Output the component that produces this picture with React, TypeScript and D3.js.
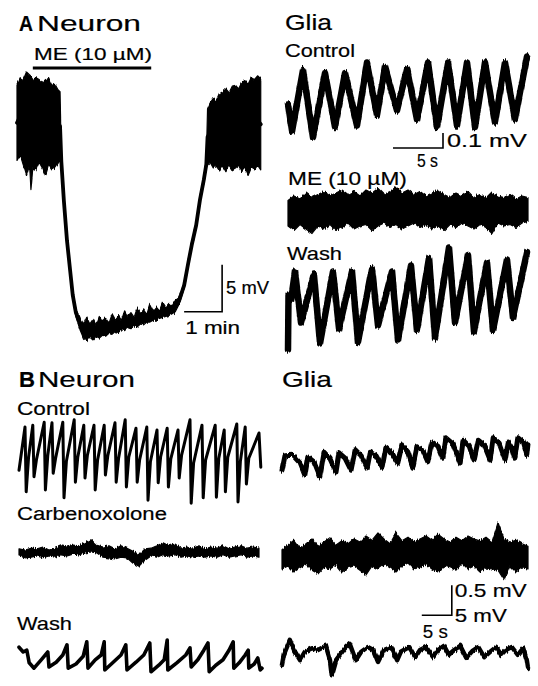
import React, { useLayoutEffect, useRef, useState } from 'react';
import * as d3 from 'd3';

// ---------- Panel A, neuron: slow record, [t (s), upper (mV), lower (mV)] of the trace band
const aNeuronTrace: [number, number, number][] = [
  [0, 3.7, -4.3], [5, 4.5, -3.7], [10, 4.3, -4.8], [15, 5.1, -5.9], [20, 4.8, -4.8],
  [22, 4.6, -7.4], [25, 4.3, -5.1], [30, 4.5, -5.3], [35, 4.3, -4.5], [40, 4.0, -5.1],
  [45, 4.3, -5.9], [50, 4.4, -4.8], [55, 3.7, -5.3], [60, 3.8, -5.1], [65, 3.2, -4.6],
  [68, 3.0, -4.3],
  // fall during ME
  [70, -4.0, -4.8], [74, -8.3, -8.8], [79, -12.6, -13.1], [84, -15.8, -16.3],
  [88, -18.3, -18.9], [93, -20.1, -20.9], [100, -21.2, -22.4],
  // hyperpolarised plateau
  [105, -21.8, -23.2], [110, -21.0, -23.5], [115, -21.7, -23.1], [120, -21.2, -23.4],
  [125, -21.8, -23.0], [130, -20.9, -23.2], [135, -21.5, -22.9], [140, -21.1, -23.0],
  [145, -21.6, -22.7], [150, -20.6, -22.8], [155, -21.2, -22.5], [160, -20.8, -22.6],
  [165, -21.3, -22.3], [170, -20.3, -22.4], [175, -20.9, -22.1], [180, -20.5, -22.2],
  [185, -21.0, -21.9], [190, -20.0, -22.0], [195, -20.6, -21.7], [200, -20.2, -21.8],
  [205, -20.7, -21.5], [210, -19.6, -21.5], [215, -20.3, -21.3], [220, -19.9, -21.3],
  [225, -20.3, -21.1], [230, -19.4, -21.0], [235, -19.9, -20.9], [240, -19.5, -20.8],
  [245, -19.8, -20.6], [250, -19.2, -20.4],
  // recovery on wash
  [256, -18.9, -19.6], [264, -17.3, -17.9], [270, -15.1, -15.7], [276, -13.0, -13.6],
  [283, -10.9, -11.5], [289, -8.2, -8.8], [295, -6.1, -6.7], [299, -4.3, -5.2],
  [301, 1.2, -4.8], [305, 1.8, -4.5], [310, 2.3, -5.1], [315, 2.0, -4.8], [320, 2.8, -5.3],
  [325, 3.0, -4.9], [330, 3.3, -5.5], [335, 2.9, -4.8], [340, 3.6, -5.3], [345, 3.7, -5.1],
  [350, 3.3, -4.8], [355, 4.0, -5.5], [360, 4.2, -5.1], [365, 3.8, -5.9], [370, 4.5, -5.1],
  [375, 4.3, -5.3], [380, 4.7, -4.8], [385, 4.4, -5.3],
];
const aNeuronDuration = 387; // s
const aMEApplication = [25, 212]; // s

// ---------- Panel A, glia: [t (s), mV]
const aGliaControl: [number, number][] = [
  [0, -0.03], [0.4, -0.21], [1.5, 0.2], [2.5, -0.25], [3.7, 0.18], [4.7, -0.18], [5.7, 0.18],
  [6.9, -0.17], [7.9, 0.25], [8.9, -0.1], [9.7, 0.22], [10.9, -0.07], [11.9, 0.21], [12.9, -0.13],
  [14.0, 0.25], [14.9, -0.18], [16.0, 0.25], [16.9, -0.17], [17.9, 0.25], [18.7, -0.18],
  [19.7, 0.25], [20.7, -0.15], [21.7, 0.25], [22.7, -0.13], [23.9, 0.29],
];
const aGliaMEStep = 0.6; // s between envelope samples
const aGliaMEUpper = [
  0.07, 0.1, 0.08, 0.12, 0.09, 0.11, 0.13, 0.1, 0.12, 0.14, 0.11, 0.13, 0.1, 0.14, 0.12, 0.15,
  0.11, 0.13, 0.16, 0.12, 0.14, 0.11, 0.13, 0.1, 0.12, 0.14, 0.11, 0.09, 0.12, 0.1, 0.13, 0.09,
  0.11, 0.08, 0.12, 0.1, 0.09, 0.11, 0.08, 0.1, 0.09,
];
const aGliaMELower = [
  -0.1, -0.13, -0.09, -0.12, -0.15, -0.1, -0.12, -0.09, -0.13, -0.11, -0.08, -0.12, -0.1, -0.09,
  -0.13, -0.1, -0.08, -0.11, -0.09, -0.12, -0.1, -0.08, -0.11, -0.09, -0.12, -0.1, -0.13, -0.09,
  -0.11, -0.08, -0.1, -0.12, -0.09, -0.11, -0.15, -0.08, -0.1, -0.09, -0.11, -0.08, -0.07,
];
const aGliaWash: [number, number][] = [
  [0, -0.33], [0.05, 0.03], [0.3, 0.0], [0.7, 0.19], [1.3, -0.15], [2.6, 0.17], [3.2, -0.29],
  [4.5, 0.19], [5.1, -0.19], [6.4, 0.19], [7.0, -0.28], [8.4, 0.21], [9.0, -0.17], [10.4, 0.19],
  [11.0, -0.27], [12.3, 0.23], [12.9, -0.2], [14.1, 0.28], [14.7, -0.25], [16.1, 0.35],
  [16.7, -0.15], [18.0, 0.3], [18.6, -0.21], [19.9, 0.25], [20.5, -0.2], [21.9, 0.27],
  [22.5, -0.12], [23.9, 0.32],
];
const aGliaDuration = 24; // s

// ---------- Panel B, neuron: [t (s), mV]
const bNeuronControl: [number, number][] = [
  [0, -1.7],
  [1.0, 5.5], [1.2, -5.3], [1.6, 0.5], [2.3, 5.8], [2.5, -2.8], [2.9, 0.0],
  [4.2, 6.3], [4.4, -5.0], [4.8, 0.8], [5.5, 6.2], [5.7, -2.2], [6.1, 0.3],
  [7.3, 6.3], [7.5, -6.3], [7.9, -0.2], [9.2, 6.7], [9.4, -3.7], [9.8, 0.5],
  [10.8, 5.8], [11.0, -3.0], [11.4, 0.8], [12.5, 5.8], [12.7, -5.0], [13.1, 0.0],
  [14.2, 5.8], [14.4, -2.5], [14.8, 0.7], [16.0, 6.2], [16.2, -3.7], [16.6, 0.3],
  [17.7, 6.7], [17.9, -4.5], [18.3, 0.5], [19.5, 5.3], [19.7, -3.7], [20.1, 0.0],
  [21.3, 5.5], [21.5, -6.7], [21.9, -0.3], [23.0, 5.0], [23.2, -3.8], [23.6, 0.5],
  [24.7, 5.3], [24.9, -4.5], [25.3, 0.2], [26.5, 5.0], [26.7, -3.0], [27.1, 0.8],
  [28.5, 6.7], [28.7, -7.2], [29.1, -0.5], [30.5, 5.8], [30.7, -6.3], [31.1, 0.0],
  [32.7, 5.8], [32.9, -6.2], [33.3, 0.3], [34.2, 5.0], [34.4, -5.3], [34.8, 0.5],
  [36.3, 6.0], [36.5, -7.0], [36.9, -0.2], [37.7, 5.5], [37.9, -4.0], [38.3, 0.3],
  [40.0, 4.5], [40.3, -1.2],
];
const bCarbStep = 1; // s between envelope samples
const bNeuronCarbUpper = [
  0.7, 0.5, 0.8, 0.7, 1.0, 0.5, 0.8, 1.2, 1.0, 1.3, 1.2, 1.7, 2.2, 1.3, 1.0, 1.2, 0.7, 1.2, 0.8,
  0.3, -0.3, 0.7, 0.8, 1.2, 1.7, 1.2, 1.5, 0.8, 1.0, 0.8, 1.2, 0.7, 1.0, 0.8, 1.2, 0.7, 1.0, 1.2,
  0.8, 1.0, 0.8,
];
const bNeuronCarbLower = [
  -0.5, -0.8, -0.7, -0.5, -0.8, -0.5, -0.7, -0.3, -0.5, -0.2, -0.3, 0.0, 0.2, 0.0, -0.7, -0.8,
  -1.0, -0.7, -0.8, -1.7, -2.2, -1.2, -0.5, -0.7, -0.3, -0.5, -0.3, -0.7, -0.5, -0.7, -0.5, -0.7,
  -0.5, -0.7, -0.3, -0.7, -0.5, -0.3, -0.7, -0.5, -0.7,
];
const bNeuronWash: [number, number][] = [
  [0, 1.3], [0.7, 0.5], [1.3, 0.8], [1.7, -1.3], [2.5, -2.2], [3.7, -0.8], [4.8, 0.5],
  [5.0, -2.0], [6.2, -1.2], [7.3, 0.0], [8.0, 1.7], [8.2, -2.2], [9.5, -1.5], [10.7, -0.2],
  [11.3, 2.2], [11.5, -2.2], [12.7, -0.8], [13.7, 0.0], [14.2, 2.2], [14.3, -2.5], [15.7, -1.2],
  [17.0, 0.0], [17.8, 1.7], [18.0, -2.5], [19.5, -1.2], [20.8, 0.0], [21.8, 2.0], [22.0, -2.8],
  [23.3, -1.7], [24.2, -0.8], [24.7, 2.5], [24.8, -2.5], [26.3, -1.3], [27.8, 0.0], [28.5, 1.2],
  [28.7, -2.0], [29.8, -0.8], [30.8, 0.8], [31.5, 2.0], [31.7, -2.8], [32.8, -1.7], [34.0, -0.8],
  [35.0, 0.8], [35.7, 2.2], [35.8, -2.2], [36.7, -1.3], [37.7, 0.0], [38.2, 0.8], [38.3, -2.2],
  [39.2, -1.5], [39.8, -0.5], [40.2, -2.5], [40.5, -2.2],
];
const bNeuronDuration = 40.5;

// ---------- Panel B, glia: [t (s), mV]
const bGliaControl: [number, number][] = [
  [0, -0.17], [0.5, 0.07], [1.8, 0.08], [3.0, -0.05], [3.8, -0.25], [4.3, 0.05], [5.3, -0.03],
  [6.3, -0.28], [7.0, 0.13], [8.0, 0.02], [9.0, -0.2], [9.5, 0.12], [10.5, 0.03], [11.5, -0.17],
  [12.2, 0.17], [13.2, 0.07], [14.2, -0.13], [14.7, 0.13], [15.7, 0.07], [16.7, -0.12],
  [17.3, 0.2], [18.3, 0.12], [19.3, -0.05], [20.0, 0.25], [21.0, 0.13], [21.8, -0.12],
  [22.5, 0.22], [23.5, 0.15], [24.3, -0.03], [25.0, 0.3], [26.0, 0.23], [26.8, 0.03],
  [27.3, 0.37], [28.5, 0.27], [29.7, -0.05], [30.2, 0.33], [31.2, 0.23], [32.0, 0.0],
  [32.7, 0.33], [33.7, 0.25], [34.7, 0.0], [35.2, 0.37], [36.2, 0.28], [37.2, 0.0], [37.7, 0.3],
  [38.3, 0.2], [38.8, 0.03], [39.3, 0.37], [40.2, 0.3], [40.8, 0.08], [41.0, 0.27],
];
const bGliaCarbUpper = [
  0.12, 0.2, 0.28, 0.15, 0.22, 0.3, 0.18, 0.25, 0.32, 0.2, 0.27, 0.22, 0.3, 0.25, 0.35, 0.28,
  0.4, 0.3, 0.22, 0.4, 0.27, 0.33, 0.25, 0.3, 0.35, 0.28, 0.38, 0.3, 0.25, 0.33, 0.27, 0.35, 0.3,
  0.27, 0.33, 0.25, 0.57, 0.3, 0.25, 0.28, 0.22, 0.18,
];
const bGliaCarbLower = [
  -0.2, -0.15, -0.25, -0.18, -0.12, -0.22, -0.28, -0.17, -0.2, -0.13, -0.25, -0.18, -0.15, -0.22,
  -0.3, -0.15, -0.2, -0.12, -0.18, -0.25, -0.15, -0.1, -0.2, -0.17, -0.12, -0.2, -0.25, -0.15,
  -0.18, -0.22, -0.1, -0.2, -0.15, -0.25, -0.18, -0.2, -0.22, -0.38, -0.15, -0.25, -0.18, -0.2,
];
const bGliaWash: [number, number][] = [
  [0, -0.25], [0.3, -0.08], [1.3, 0.17], [2.0, 0.0], [3.0, -0.17], [3.8, -0.03], [5.0, 0.03],
  [6.0, 0.0], [7.3, 0.07], [8.0, -0.17], [8.3, -0.42], [9.0, -0.17], [10.5, 0.03], [11.3, 0.1],
  [12.3, -0.17], [13.2, -0.03], [14.3, 0.05], [15.2, 0.0], [16.0, -0.2], [17.0, 0.0], [18.2, 0.05],
  [19.2, -0.17], [19.8, -0.03], [21.2, 0.05], [22.2, -0.12], [23.0, 0.0], [24.0, 0.05],
  [25.2, -0.12], [26.0, 0.0], [27.0, 0.07], [27.8, -0.08], [28.7, 0.0], [29.7, 0.07],
  [30.7, -0.13], [31.7, -0.02], [32.7, 0.05], [33.7, -0.12], [34.7, -0.03], [35.7, 0.05],
  [36.5, -0.08], [37.3, 0.0], [38.3, 0.05], [39.3, -0.08], [40.2, 0.03], [40.8, -0.17], [41.0, -0.3],
];
const bGliaDuration = 41;

// scale bar sizes
const aNeuronBar = { mv: 5, s: 60, vLabel: '5 mV', hLabel: '1 min' };
const aGliaBar = { mv: 0.1, s: 5, vLabel: '0.1 mV', hLabel: '5 s' };
const bBar = { mvGlia: 0.5, mvNeuron: 5, s: 5, labels: ['0.5 mV', '5 mV', '5 s'] };

const FONT = '"Liberation Sans", Arial, Helvetica, sans-serif';

const yScale = (zero: number, pxPerUnit: number) =>
  d3.scaleLinear().domain([0, 1]).range([zero, zero - pxPerUnit]);

// text of the scanned figure is a little wider than the font: stretch to the measured width
function Label({ x, y, size, len, bold, children }: any) {
  const ref = useRef<SVGTextElement>(null);
  const [sx, setSx] = useState(1);
  useLayoutEffect(() => {
    const w = ref.current ? ref.current.getComputedTextLength() : 0;
    if (w > 0) setSx(len / w);
  }, [len]);
  return (
    <text ref={ref} transform={`translate(${x},${y}) scale(${sx},1)`} fontSize={size}
      fontWeight={bold ? 'bold' : 'normal'} fontFamily={FONT} fill="#000"
      stroke="#000" strokeWidth={0.2}>{children}</text>
  );
}

export default function App() {
  // ----- scales
  const xAN = d3.scaleLinear().domain([0, aNeuronDuration]).range([17, 262]);
  const yAN = yScale(120, 9.4);
  const xAG = d3.scaleLinear().domain([0, aGliaDuration]).range([288, 528]);
  const yAGctl = yScale(100, 150);
  const yAGme = yScale(211, 150);
  const yAGwash = yScale(300, 150);
  const xBN = d3.scaleLinear().domain([0, bNeuronDuration]).range([19, 262]);
  const yBNctl = yScale(460, 6);
  const yBNcarb = yScale(553, 6);
  const yBNwash = yScale(655, 6);
  const xBG = d3.scaleLinear().domain([0, bGliaDuration]).range([282, 528]);
  const yBGctl = yScale(460, 60);
  const yBGcarb = yScale(557, 60);
  const yBGwash = yScale(650, 60);

  const line = (x: any, y: any, data: [number, number][]) =>
    d3.line<[number, number]>().x(d => x(d[0])).y(d => y(d[1]))(data) || '';

  const envelope = (x: any, y: any, step: number, up: number[], lo: number[]) =>
    d3.area<number>()
      .x((_, i) => x(i * step))
      .y0((_, i) => y(lo[i]))
      .y1(d => y(d))(up) || '';

  // A neuron: band area + centre line for the steep parts
  const aArea = d3.area<[number, number, number]>()
    .x(d => xAN(d[0])).y0(d => yAN(d[2])).y1(d => yAN(d[1]))(aNeuronTrace) || '';
  const aMid = d3.line<[number, number, number]>()
    .x(d => xAN(d[0])).y(d => yAN((d[1] + d[2]) / 2))(aNeuronTrace) || '';

  // scale bars
  const anCorner = [xAN(324), yAN(-20.4)];
  const anV = yAN(0) - yAN(aNeuronBar.mv);
  const anH = xAN(aNeuronBar.s) - xAN(0);
  const agCorner = [xAG(15.5), yAGctl(-0.32)];
  const agV = yAGctl(0) - yAGctl(aGliaBar.mv);
  const agH = xAG(aGliaBar.s) - xAG(0);
  const bCorner = [xBG(28.3), yBGcarb(-0.97)];
  const bV = yBGcarb(0) - yBGcarb(bBar.mvGlia);
  const bH = xBG(bBar.s) - xBG(0);

  const trace = (d: string, w: number, rough = false) => (
    <path d={d} fill="none" stroke="#000" strokeWidth={w} strokeLinejoin="round"
      strokeLinecap="round" filter={rough ? 'url(#rough)' : undefined} />
  );
  const band = (d: string, rough = true) => (
    <path d={d} fill="#000" stroke="#000" strokeWidth={1.2} strokeLinejoin="round"
      filter={rough ? 'url(#rough)' : undefined} />
  );

  return (
    <svg width={538} height={686} style={{ position: 'absolute', left: 0, top: 0, background: '#fff' }}>
      <defs>
        {/* recording noise: small vertical jitter of the ink */}
        <filter id="rough" x="-5%" y="-30%" width="110%" height="160%">
          <feTurbulence type="fractalNoise" baseFrequency="0.9 0.08" numOctaves={2} seed={3} result="n" />
          <feColorMatrix in="n" type="matrix"
            values="0 0 0 0 0.5  0 1 0 0 0  0 0 0 0 0  0 0 0 0 1" result="ny" />
          <feDisplacementMap in="SourceGraphic" in2="ny" scale={5} xChannelSelector="R" yChannelSelector="G" />
        </filter>
      </defs>
      <rect width={538} height={686} fill="#fff" />

      {/* ---- Panel A, neuron */}
      <Label x={19} y={31} size={22.5} len={14} bold>A</Label>
      <Label x={37} y={31} size={22.5} len={104}>Neuron</Label>
      <Label x={34} y={60} size={17} len={118}>ME (10 µM)</Label>
      <line x1={xAN(aMEApplication[0])} x2={xAN(aMEApplication[1])} y1={68} y2={68} stroke="#000" strokeWidth={3} />
      {band(aArea)}
      {trace(aMid, 3.8)}
      <path d={`M${anCorner[0] - anH},${anCorner[1]}H${anCorner[0]}V${anCorner[1] - anV}`} fill="none" stroke="#000" strokeWidth={1.6} />
      <Label x={anCorner[0] + 4} y={anCorner[1] - 18} size={17.5} len={43}>{aNeuronBar.vLabel}</Label>
      <Label x={anCorner[0] - anH + 1} y={anCorner[1] + 22} size={17.5} len={55}>{aNeuronBar.hLabel}</Label>

      {/* ---- Panel A, glia */}
      <Label x={285} y={30} size={22.5} len={47}>Glia</Label>
      <Label x={285} y={57} size={19} len={70}>Control</Label>
      {trace(line(xAG, yAGctl, aGliaControl), 6.5, true)}
      <path d={`M${agCorner[0] - agH},${agCorner[1]}H${agCorner[0]}V${agCorner[1] - agV}`} fill="none" stroke="#000" strokeWidth={1.6} />
      <Label x={agCorner[0] + 4} y={agCorner[1] - 1} size={19} len={80}>{aGliaBar.vLabel}</Label>
      <Label x={agCorner[0] - 26} y={agCorner[1] + 19} size={19} len={21}>{aGliaBar.hLabel}</Label>
      <Label x={288} y={185} size={19} len={119}>ME (10 µM)</Label>
      {band(envelope(xAG, yAGme, aGliaMEStep, aGliaMEUpper, aGliaMELower))}
      <Label x={287} y={260} size={19} len={55}>Wash</Label>
      {trace(line(xAG, yAGwash, aGliaWash), 6.5, true)}

      {/* ---- Panel B, neuron */}
      <Label x={19} y={387} size={22.5} len={16} bold>B</Label>
      <Label x={38} y={387} size={22.5} len={97}>Neuron</Label>
      <Label x={17} y={415} size={19} len={73}>Control</Label>
      {trace(line(xBN, yBNctl, bNeuronControl), 3)}
      <Label x={17} y={520} size={19} len={150}>Carbenoxolone</Label>
      {band(envelope(xBN, yBNcarb, bCarbStep, bNeuronCarbUpper, bNeuronCarbLower))}
      <Label x={17} y={630} size={19} len={55}>Wash</Label>
      {trace(line(xBN, yBNwash, bNeuronWash), 3.6)}

      {/* ---- Panel B, glia */}
      <Label x={282} y={387} size={22.5} len={50}>Glia</Label>
      {trace(line(xBG, yBGctl, bGliaControl), 5, true)}
      {band(envelope(xBG, yBGcarb, bCarbStep, bGliaCarbUpper, bGliaCarbLower))}
      {trace(line(xBG, yBGwash, bGliaWash), 4.5, true)}
      <path d={`M${bCorner[0] - bH},${bCorner[1]}H${bCorner[0]}V${bCorner[1] - bV}`} fill="none" stroke="#000" strokeWidth={1.6} />
      <Label x={bCorner[0] + 3} y={bCorner[1] - 18} size={19} len={72}>{bBar.labels[0]}</Label>
      <Label x={bCorner[0] + 3} y={bCorner[1] + 7} size={19} len={52}>{bBar.labels[1]}</Label>
      <Label x={bCorner[0] - 29} y={bCorner[1] + 23} size={19} len={25}>{bBar.labels[2]}</Label>
    </svg>
  );
}
